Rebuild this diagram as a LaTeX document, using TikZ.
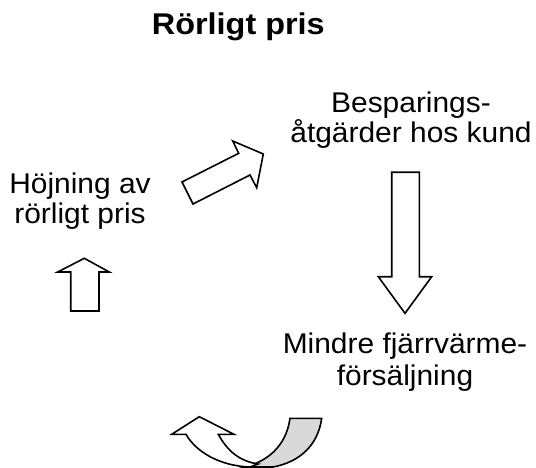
\documentclass[tikz,border=0pt]{standalone}
\usepackage{fontspec}
\setmainfont{Liberation Sans}
\definecolor{backgray}{RGB}{217,217,217}
\tikzset{
  blockarrow/.style={draw=black, line width=1.6pt, fill=white, line join=miter},
  backarrow/.style={draw=black, line width=1.6pt, fill=backgray, line join=miter},
  lbl/.style={anchor=base, inner sep=0pt, xscale=1.05, font=\fontsize{28.5}{30}\selectfont},
  ttl/.style={anchor=base, inner sep=0pt, xscale=1.08, font=\fontsize{30}{32}\selectfont\bfseries}
}
\begin{document}
\begin{tikzpicture}[x=1pt,y=-1pt]
\useasboundingbox (0,0) rectangle (536,468);
% title
\node[ttl] (title) at (238.3,35) {Rörligt pris};
% text blocks
\node[lbl] (b1) at (411,113) {Besparings-};
\node[lbl] (b2) at (411,143) {åtgärder hos kund};
\node[lbl] (h1) at (80,194) {Höjning av};
\node[lbl] (h2) at (80,223) {rörligt pris};
\node[lbl] (m1) at (405,353) {Mindre fjärrvärme-};
\node[lbl] (m2) at (405,385) {försäljning};
% diagonal block arrow
\draw[blockarrow] (182,182) -- (193,204) -- (250,175) -- (256.7,187.7) -- (263.3,154)
  -- (232.7,141) -- (238.7,153.3) -- cycle;
% down block arrow
\draw[blockarrow] (391.7,172.3) -- (419.3,172.3) -- (419.3,276.7) -- (431.7,276.7)
  -- (405,313.3) -- (378.3,276.7) -- (391.7,276.7) -- cycle;
% up block arrow
\draw[blockarrow] (70.7,311) -- (99,311) -- (99,272) -- (109.3,272) -- (84.3,258.3)
  -- (57.7,272) -- (70.7,272) -- cycle;
% curved arrow: back (gray) band
\draw[backarrow] (290,418.3) -- (321.7,418.3)
  .. controls (318,445) and (300,462) .. (273,467)
  -- (245,467) .. controls (265,462) and (286,448) .. cycle;
% curved arrow: front (white) band with head
\draw[blockarrow] (199.3,416.7) -- (234,434.3) -- (218.3,434.3)
  .. controls (228,452) and (240,461) .. (258,464)
  -- (250,467) .. controls (220,466) and (196,452) .. (186,434.3)
  -- (171.7,434.3) -- cycle;
\end{tikzpicture}
\end{document}
